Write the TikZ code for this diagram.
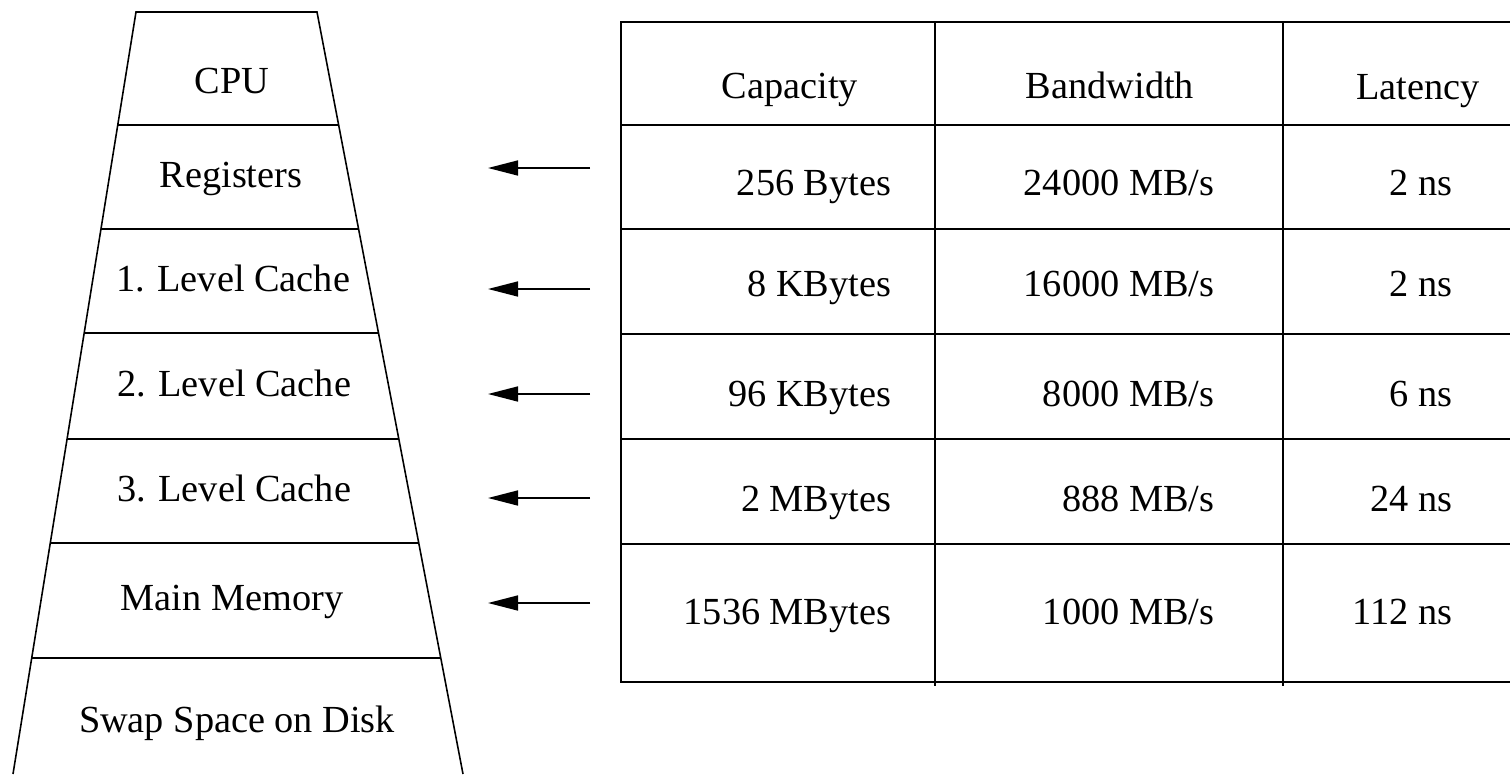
\documentclass[tikz,border=0pt]{standalone}
\usepackage{fontspec}
\setmainfont{Liberation Serif}
\usetikzlibrary{arrows.meta,calc}
\begin{document}
\begin{tikzpicture}[x=0.02cm, y=-0.02cm, line width=0.9pt,
    lvl/.style={anchor=base, inner sep=0pt, font=\fontsize{21.8}{26}\selectfont},
    head/.style={anchor=base, inner sep=0pt, font=\fontsize{21.8}{26}\selectfont},
    cell/.style={anchor=base east, inner sep=0pt, font=\fontsize{21.8}{26}\selectfont}]
    \useasboundingbox (0,0) rectangle (1510,774);

    % Pyramid
    \coordinate (tl) at (136,12);
    \coordinate (tr) at (317,12);
    \coordinate (bl) at (13,774);
    \coordinate (br) at (463,774);
    \draw (bl) -- (tl) -- (tr) -- (br);
    \foreach \y in {125,229,333,439,543,658}
        \draw ($(tl)!{(\y-12)/762}!(bl)$) -- ($(tr)!{(\y-12)/762}!(br)$);

    % Levels
    \node[lvl] (cpu) at (232,93) {CPU};
    \node[lvl] (reg) at (231,187) {Registers};
    \node[lvl] (l1) at (233,291) {1. Level Cache};
    \node[lvl] (l2) at (234,396) {2. Level Cache};
    \node[lvl] (l3) at (234,501) {3. Level Cache};
    \node[lvl] (mem) at (232,610) {Main Memory};
    \node[lvl] (swap) at (237,732) {Swap Space on Disk};

    % Table
    \draw (1510,22) -- (621,22) -- (621,682) -- (1510,682);
    \foreach \y in {125,229,334,439,544}
        \draw (621,\y) -- (1510,\y);
    \foreach \x in {935,1283}
        \draw (\x,22) -- (\x,686);

    % Header
    \node[head] (cap) at (790,98) {Capacity};
    \node[head] (bw) at (1110,98) {Bandwidth};
    \node[head] (lat) at (1418,99) {Latency};

    % Rows
    \foreach \c/\b/\l/\y [count=\i] in {256 Bytes/24000/2/195, 8 KBytes/16000/2/296,
            96 KBytes/8000/6/406, 2 MBytes/888/24/511, 1536 MBytes/1000/112/624} {
        \node[cell] (cap\i) at (892,\y) {\c};
        \node[cell] (bw\i) at (1215,\y) {\b\ MB/s};
        \node[cell] (lat\i) at (1453,\y) {\l\ ns};
    }

    % Arrows
    \foreach \y [count=\i] in {168,289,394,498,603} {
        \coordinate (from\i) at (590,\y);
        \coordinate (to\i) at (488,\y);
        \draw[-{Triangle[length=0.6cm,width=0.3cm]}] (from\i) -- (to\i);
    }
\end{tikzpicture}
\end{document}
